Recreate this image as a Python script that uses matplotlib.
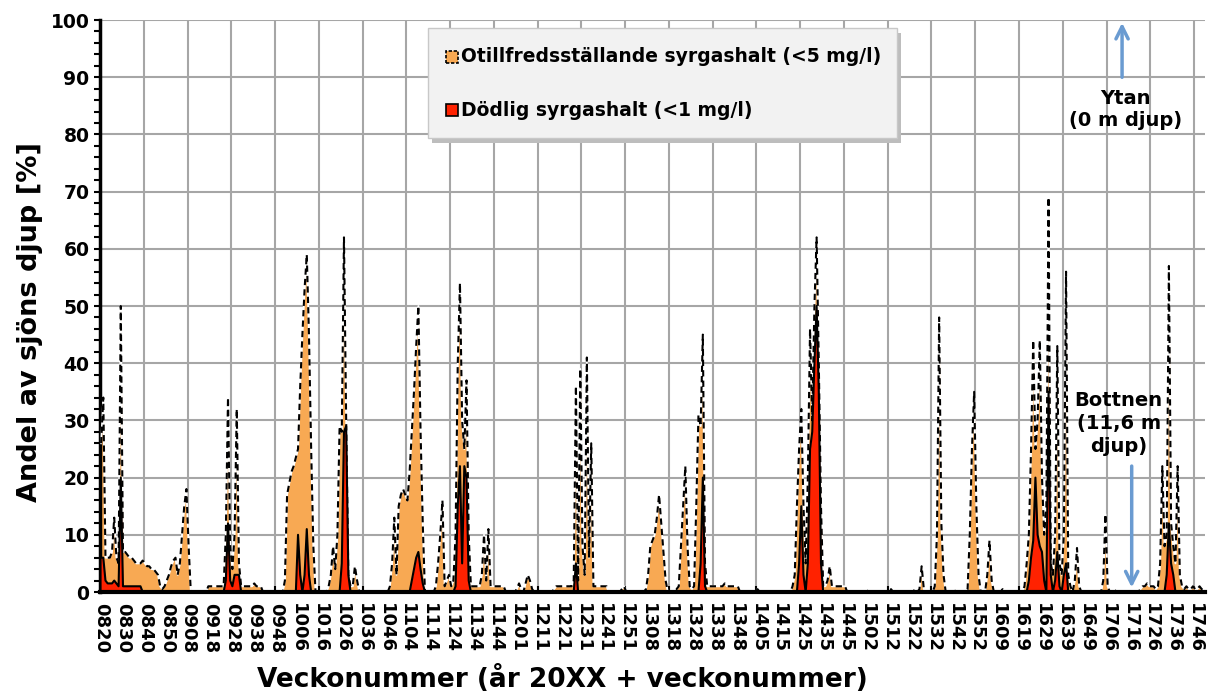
import matplotlib
matplotlib.use("Agg")
import matplotlib.pyplot as plt
import numpy as np
from matplotlib.patches import Rectangle

plt.rcParams['font.family'] = ['DejaVu Sans']
plt.rcParams['font.weight'] = 'bold'

# veckor (index 0 = v. 0820), ett värde per vecka
n_weeks = 505

# Andel av djupet med syrgas < 5 mg/l (avläst, vecka-index: procent)
under5 = {
    0: 26, 1: 34, 2: 6, 3: 6, 4: 6, 5: 7, 6: 13, 7: 6, 8: 5, 9: 50, 10: 7, 11: 7, 12: 6.5,
    13: 6, 14: 6, 15: 5.5, 16: 5, 17: 5, 18: 5, 19: 5.5, 20: 5, 21: 4.5, 22: 4.5, 23: 4,
    24: 4, 25: 3.5, 26: 3, 27: 1, 28: 0.5, 29: 1, 30: 2, 31: 3, 32: 4.5, 33: 5.5, 34: 6,
    35: 3, 36: 5, 37: 10, 38: 15, 39: 18, 40: 8,
    49: 1, 50: 1, 51: 1, 52: 1, 53: 1, 54: 1, 55: 1, 56: 1,
    57: 10, 58: 34, 59: 8, 60: 4, 61: 10, 62: 32, 63: 5, 64: 1, 65: 1, 66: 1, 67: 1, 68: 1,
    69: 1, 70: 1.5, 71: 1, 72: 1, 73: 1,
    84: 2, 85: 17, 86: 19, 87: 21, 88: 22, 89: 23.5, 90: 25, 91: 36, 92: 45, 93: 53, 94: 59,
    95: 45, 96: 25, 97: 8,
    104: 1, 105: 3, 106: 8, 107: 4, 108: 10, 109: 29, 110: 28, 111: 62, 112: 30, 113: 3,
    114: 1, 115: 1, 116: 4.5, 117: 2,
    132: 1, 133: 5, 134: 13, 135: 3, 136: 15, 137: 17, 138: 18, 139: 17, 140: 16, 141: 21,
    142: 28, 143: 35, 144: 43, 145: 50, 146: 28, 147: 12,
    153: 1, 154: 5, 155: 10, 156: 16, 157: 1, 158: 2, 159: 3, 160: 1, 161: 2, 162: 10,
    163: 40, 164: 54, 165: 30, 166: 25, 167: 37, 168: 10, 169: 1, 170: 1, 171: 1, 172: 1,
    173: 1, 174: 3, 175: 10, 176: 2, 177: 11, 178: 1, 179: 1, 180: 1, 181: 1, 182: 1,
    183: 1, 184: 1,
    190: 0.5, 191: 1.5, 192: 0.5, 194: 1.5, 195: 3, 196: 2, 197: 0.5,
    207: 0.5, 208: 1, 209: 1, 210: 1, 211: 1, 212: 1, 213: 1, 214: 1, 215: 1, 216: 2,
    217: 36, 218: 2, 219: 39, 220: 8, 221: 3, 222: 41, 223: 6, 224: 26, 225: 1, 226: 1,
    227: 1, 228: 1, 229: 1, 230: 1, 231: 1,
    238: 0.5, 239: 1,
    249: 0.5, 250: 3, 251: 8, 252: 9, 253: 10, 254: 13, 255: 17, 256: 12, 257: 7, 258: 2,
    262: 0.5, 263: 0.5, 264: 1, 265: 8, 266: 15, 267: 22, 268: 8, 269: 1, 270: 0.5,
    271: 1, 272: 15, 273: 31, 274: 29, 275: 45, 276: 5, 277: 1, 278: 1, 279: 1, 280: 1,
    281: 1, 282: 1, 283: 1, 284: 1, 285: 1.5, 286: 1, 287: 1, 288: 1, 289: 1, 290: 1, 291: 1,
    300: 0.5,
    316: 1, 317: 3, 318: 15, 319: 25, 320: 32, 321: 15, 322: 5, 323: 20, 324: 46, 325: 30,
    326: 50, 327: 62, 328: 40, 329: 15, 330: 1, 331: 1, 332: 2, 333: 4.5, 334: 1, 335: 1,
    336: 1, 337: 1, 338: 1, 339: 1, 340: 1,
    351: 0.5, 361: 0.5, 372: 0.5, 374: 0.5, 375: 4.5, 376: 0.5,
    381: 1, 382: 10, 383: 48, 384: 12, 385: 3,
    391: 0.5, 396: 0.5, 397: 10, 398: 25, 399: 35, 400: 15, 401: 3,
    405: 3, 406: 9, 407: 2, 412: 0.5,
    422: 1, 423: 5, 424: 10, 425: 25, 426: 44, 427: 25, 428: 30, 429: 44, 430: 20, 431: 10,
    432: 15, 433: 69, 434: 5, 435: 3, 436: 10, 437: 43, 438: 5, 439: 3, 440: 10, 441: 56,
    442: 3, 443: 1, 445: 2, 446: 7.7, 447: 1,
    458: 2, 459: 13.6, 460: 1, 463: 0.5,
    475: 0.5, 476: 1, 477: 1, 478: 1.5, 479: 1, 480: 1, 481: 1, 482: 0.5, 483: 1, 484: 5,
    485: 22, 486: 8, 487: 10, 488: 57, 489: 12, 490: 8, 491: 5, 492: 22, 493: 3, 494: 1,
    495: 0.5, 496: 1, 497: 0.5, 498: 0.5, 499: 1, 500: 0.5, 501: 0.5, 502: 1, 503: 0.5,
    504: 0.5,
}

# Andel av djupet med syrgas < 1 mg/l
under1 = {
    0: 6, 1: 6, 2: 2, 3: 1.5, 4: 1.5, 5: 1.5, 6: 2, 7: 1.5, 8: 1, 9: 20, 10: 1, 11: 1,
    12: 1, 13: 1, 14: 1, 15: 1, 16: 1, 17: 1, 18: 1,
    57: 2, 58: 12, 59: 2, 60: 1, 61: 3, 62: 3, 63: 3,
    90: 10, 91: 3, 93: 3, 94: 11, 95: 3,
    110: 5, 111: 28, 112: 29, 113: 3,
    142: 2, 143: 4, 144: 6, 145: 7, 146: 4, 147: 1.5,
    162: 1, 163: 15, 164: 22, 165: 5, 166: 22, 167: 20, 168: 2,
    217: 5,
    274: 5, 275: 20, 276: 1,
    319: 5, 320: 15, 321: 3, 323: 5, 324: 25, 325: 28, 326: 40, 327: 50, 328: 35, 329: 5,
    424: 2, 425: 6, 426: 9, 427: 20, 428: 10, 429: 8, 430: 7, 431: 2, 433: 35, 434: 3,
    436: 2, 437: 7, 438: 1, 440: 3, 441: 5,
    487: 3, 488: 12, 489: 5, 490: 3,
}

tick_labels = ['0820', '0830', '0840', '0850', '0908', '0918', '0928', '0938', '0948',
               '1006', '1016', '1026', '1036', '1046', '1104', '1114', '1124', '1134',
               '1144', '1201', '1211', '1221', '1231', '1241', '1251', '1308', '1318',
               '1328', '1338', '1348', '1405', '1415', '1425', '1435', '1445', '1502',
               '1512', '1522', '1532', '1542', '1552', '1609', '1619', '1629', '1639',
               '1649', '1706', '1716', '1726', '1736', '1746']

weeks = np.arange(n_weeks)
y5 = np.zeros(n_weeks)
for k, v in under5.items():
    y5[k] = v
y1 = np.zeros(n_weeks)
for k, v in under1.items():
    y1[k] = v

W, H = 1208, 698
fig = plt.figure(figsize=(W / 100, H / 100), dpi=100)
ax = fig.add_axes([100 / W, 1 - 592 / H, 1105 / W, 572 / H])

orange = '#F8A953'
red = '#FF2200'

ax.fill_between(weeks, y5, color=orange, lw=0, zorder=2)
ax.plot(weeks, y5, color='white', lw=1.3, zorder=3)
ax.plot(weeks, y5, color='black', lw=1.5, ls=(0, (3, 2)), zorder=4)
ax.fill_between(weeks, y1, color=red, lw=0, zorder=5)
ax.plot(weeks, y1, color='black', lw=1.5, zorder=6)

ax.set_xlim(-0.5, n_weeks - 0.5)
ax.set_ylim(0, 100)
ax.set_yticks(np.arange(0, 101, 10))
ax.set_yticks(np.arange(0, 101, 2), minor=True)
ax.set_xticks(np.arange(0, 10 * len(tick_labels), 10))
ax.set_xticklabels(tick_labels, rotation=270, fontsize=13, fontweight='bold')
ax.set_xticks(np.arange(19.5, n_weeks, 20), minor=True)
ax.tick_params(axis='x', which='major', length=0, pad=8)
ax.tick_params(axis='x', which='minor', length=4, width=1.5, direction='in')
ax.tick_params(axis='y', which='both', length=4, width=1.5, direction='out')
for t in ax.get_yticklabels():
    t.set_fontsize(13.5)
    t.set_fontweight('bold')

ax.grid(True, axis='y', which='major', color='#A6A6A6', lw=1.5)
ax.grid(True, axis='x', which='minor', color='#A6A6A6', lw=1.5)
ax.set_axisbelow(True)
for s in ['top', 'right']:
    ax.spines[s].set_visible(False)
ax.spines['left'].set_linewidth(2.5)
ax.spines['bottom'].set_linewidth(3)
ax.spines['bottom'].set_zorder(7)

ax.set_ylabel('Andel av sjöns djup [%]', fontsize=19.5, fontweight='bold')
ax.yaxis.set_label_coords(-0.052, 0.472)
ax.set_xlabel('Veckonummer (år 20XX + veckonummer)', fontsize=19, fontweight='bold')
ax.xaxis.set_label_coords(0.418, -0.128)

# pilar och texter
arrow_c = '#6A9BD1'
ax.annotate('', xy=(466.6, 100), xytext=(466.6, 89.5),
            arrowprops=dict(arrowstyle='->', color=arrow_c, lw=2.5, mutation_scale=22),
            annotation_clip=False)
ax.text(468, 84.3, 'Ytan\n(0 m djup)', ha='center', va='center', fontsize=14,
        fontweight='bold', linespacing=1.2)
ax.annotate('', xy=(471, 0.3), xytext=(471, 22.5),
            arrowprops=dict(arrowstyle='->', color=arrow_c, lw=2.5, mutation_scale=22))
ax.text(465, 29.5, 'Bottnen\n(11,6 m\ndjup)', ha='center', va='center', fontsize=14,
        fontweight='bold', linespacing=1.25)


# legend (ritad i pixelkoordinater)
def fx(x):
    return x / W


def fy(y):
    return 1 - y / H


fig.add_artist(Rectangle((fx(432), fy(143)), 469 / W, 110 / H, transform=fig.transFigure,
                         facecolor='#BDBDBD', edgecolor='none', zorder=10))
fig.add_artist(Rectangle((fx(428), fy(138)), 469 / W, 110 / H, transform=fig.transFigure,
                         facecolor='#F2F2F2', edgecolor='#C8C8C8', lw=1, zorder=11))
fig.add_artist(Rectangle((fx(446), fy(63)), 12 / W, 12 / H, transform=fig.transFigure,
                         facecolor=orange, edgecolor='black', lw=1.2, ls=(0, (2, 1)),
                         zorder=12))
fig.add_artist(Rectangle((fx(446), fy(116)), 12 / W, 12 / H, transform=fig.transFigure,
                         facecolor=red, edgecolor='black', lw=1.2, zorder=12))
fig.text(fx(461), fy(57), 'Otillfredsställande syrgashalt (<5 mg/l)', fontsize=13.5,
         fontweight='bold', va='center', ha='left', zorder=13)
fig.text(fx(461), fy(110), 'Dödlig syrgashalt (<1 mg/l)', fontsize=13.5,
         fontweight='bold', va='center', ha='left', zorder=13)

fig.savefig('out.png', dpi=100)
